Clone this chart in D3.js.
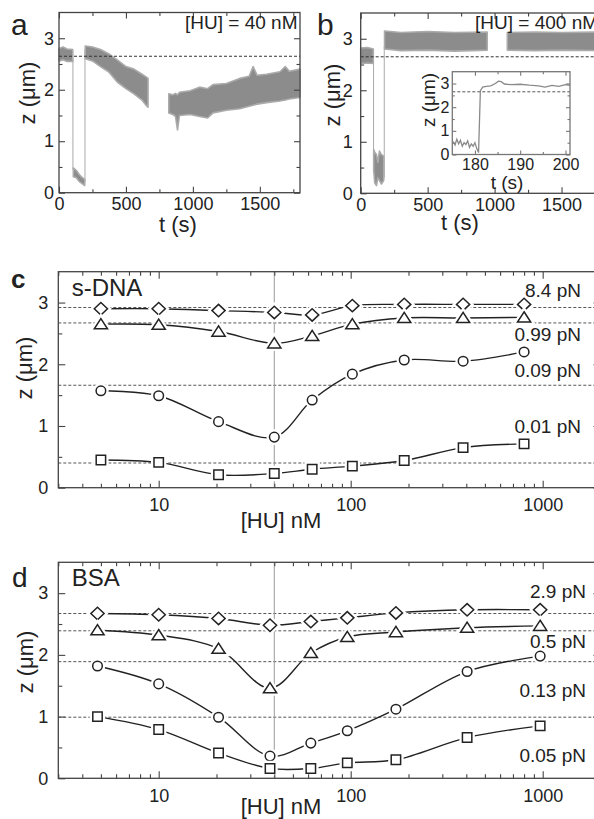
<!DOCTYPE html>
<html>
<head>
<meta charset="utf-8">
<script src="https://cdn.jsdelivr.net/npm/d3@7"></script>
<style>
  body { margin: 0; background: #fff; }
  svg { display: block; font-family: "Liberation Sans", Arial, sans-serif; }
</style>
</head>
<body>
<svg id="fig" width="594" height="819"></svg>
<script>
// ---- panel a: trace envelope, [t (s), z low, z high] per recorded stretch
const traceA = [
  [[0, 2.56, 2.80], [30, 2.58, 2.83], [60, 2.55, 2.79], [103, 2.55, 2.78]],
  [[107, 0.31, 0.48], [130, 0.29, 0.43], [150, 0.22, 0.36], [170, 0.18, 0.30], [192, 0.14, 0.26]],
  [[196, 2.60, 2.85], [250, 2.56, 2.83], [310, 2.45, 2.78], [370, 2.35, 2.70], [435, 2.15, 2.58],
   [500, 2.02, 2.45], [560, 1.92, 2.40], [620, 1.80, 2.30], [650, 1.70, 2.25], [665, 1.66, 2.22]],
  [[820, 1.55, 1.92], [850, 1.52, 1.90], [870, 1.48, 1.93], [885, 1.22, 1.90], [900, 1.50, 1.95],
   [980, 1.52, 1.98], [1050, 1.48, 2.05], [1110, 1.45, 2.02], [1150, 1.55, 2.10], [1250, 1.60, 2.12],
   [1350, 1.63, 2.22], [1420, 1.68, 2.26], [1450, 1.70, 2.45], [1480, 1.72, 2.28], [1550, 1.75, 2.30],
   [1650, 1.78, 2.35], [1690, 1.80, 2.45], [1720, 1.82, 2.36], [1800, 1.85, 2.40]]
];
const jumpsA = [[104, 2.6, 0.45], [194, 0.2, 2.78]]; // [t, from z, to z]

// ---- panel b
const traceB = [
  [[0, 2.52, 2.82], [50, 2.53, 2.83], [94, 2.52, 2.80]],
  [[97, 0.45, 0.85], [105, 0.20, 0.80], [118, 0.15, 0.75], [128, 0.30, 0.60], [140, 0.25, 0.82],
   [155, 0.18, 0.75], [172, 0.25, 0.72]],
  [[178, 2.80, 3.15], [300, 2.77, 3.12], [500, 2.78, 3.14], [700, 2.76, 3.12], [945, 2.78, 3.13]],
  [[1095, 2.78, 3.12], [1300, 2.77, 3.13], [1500, 2.78, 3.12], [1800, 2.77, 3.13]]
];
const jumpsB = [[96, 2.55, 0.8], [176, 0.3, 2.85]];

// inset of b: [t (s), z]
const insetT = [175.2, 175.6, 176.0, 176.4, 176.8, 177.2, 177.6, 178.0, 178.4, 178.8, 179.2, 179.6,
  180.0, 180.4, 180.8, 181.2, 181.7, 182.5, 183.5, 184.5, 185.2, 185.8, 186.5, 188, 190, 192,
  194, 195.5, 197, 198.5, 200, 201];
const insetZ = [0.55, 0.40, 0.65, 0.45, 0.60, 0.35, 0.50, 0.42, 0.58, 0.30, 0.45, 0.35,
  0.50, 0.25, 0.08, 2.70, 2.85, 2.88, 2.90, 3.00, 3.10, 3.08, 2.98, 2.95, 2.97, 2.93,
  2.90, 2.85, 2.92, 2.88, 2.95, 2.92];
const refAB = 2.65;

// ---- panel c (s-DNA)
const concC = [5, 10, 20.5, 40, 63, 102, 190, 385, 800];
const zC84 = [2.90, 2.90, 2.87, 2.84, 2.80, 2.95, 2.97, 2.97, 2.97];
const zC099 = [2.65, 2.64, 2.53, 2.34, 2.46, 2.65, 2.75, 2.75, 2.76];
const zC009 = [1.57, 1.49, 1.07, 0.82, 1.42, 1.84, 2.07, 2.05, 2.20];
const zC001 = [0.45, 0.41, 0.21, 0.23, 0.30, 0.35, 0.44, 0.65, 0.71];
const refC = [2.92, 2.67, 1.66, 0.40];
const forceC = ["8.4 pN", "0.99 pN", "0.09 pN", "0.01 pN"];

// ---- panel d (BSA)
const concD = [4.8, 10, 20.5, 38, 62, 96, 172, 404, 970];
const zD29 = [2.67, 2.65, 2.59, 2.48, 2.54, 2.60, 2.68, 2.73, 2.73];
const zD05 = [2.40, 2.32, 2.10, 1.46, 2.03, 2.29, 2.37, 2.44, 2.47];
const zD013 = [1.82, 1.53, 0.99, 0.36, 0.57, 0.77, 1.12, 1.73, 1.98];
const zD005 = [1.00, 0.79, 0.41, 0.16, 0.16, 0.25, 0.30, 0.66, 0.85];
const refD = [2.67, 2.39, 1.89, 0.99];
const forceD = ["2.9 pN", "0.5 pN", "0.13 pN", "0.05 pN"];

const hu40 = 40;

const ink = "#222", frameCol = "#444";
const svg = d3.select("#fig");
svg.append("rect").attr("width", 594).attr("height", 819).attr("fill", "#fff");

// frame + inward ticks on all four sides
function drawAxes(g, x, y, o) {
  const [x0, x1] = x.range();
  const [y0, y1] = y.range();
  const mk = (axisFn, scale, vals, size, fmt, pad, tr) => {
    const ax = axisFn(scale).tickValues(vals).tickSize(-size).tickSizeOuter(0)
      .tickPadding(pad).tickFormat(fmt || (() => ""));
    const a = g.append("g").attr("transform", tr).call(ax);
    a.select(".domain").remove();
    a.selectAll(".tick line").attr("stroke", o.col || frameCol).attr("stroke-width", 1.1);
    a.selectAll("text").attr("font-size", o.fs).attr("fill", ink).attr("font-family", null);
  };
  mk(d3.axisBottom, x, o.xMaj, o.maj, o.xFmt, o.xPad, `translate(0,${y0})`);
  mk(d3.axisBottom, x, o.xMin, o.min, null, 0, `translate(0,${y0})`);
  mk(d3.axisTop, x, o.xMaj, o.maj, null, 0, `translate(0,${y1})`);
  mk(d3.axisTop, x, o.xMin, o.min, null, 0, `translate(0,${y1})`);
  mk(d3.axisLeft, y, o.yMaj, o.maj, o.yFmt, o.yPad, `translate(${x0},0)`);
  mk(d3.axisLeft, y, o.yMin, o.min, null, 0, `translate(${x0},0)`);
  mk(d3.axisRight, y, o.yMaj, o.maj, null, 0, `translate(${x1},0)`);
  mk(d3.axisRight, y, o.yMin, o.min, null, 0, `translate(${x1},0)`);
  g.append("rect").attr("x", x0).attr("y", y1).attr("width", x1 - x0).attr("height", y0 - y1)
    .attr("fill", "none").attr("stroke", o.col || frameCol).attr("stroke-width", 1.3);
}

function text(x, y, s, size, anchor, extra) {
  const t = svg.append("text").attr("x", x).attr("y", y).attr("font-size", size)
    .attr("fill", ink).attr("text-anchor", anchor || "start").text(s);
  if (extra) extra(t);
  return t;
}
function yTitle(cx, cy, size) {
  svg.append("text").attr("transform", `translate(${cx},${cy}) rotate(-90)`)
    .attr("text-anchor", "middle").attr("dy", "0.35em").attr("font-size", size)
    .attr("fill", ink).text("z (μm)");
}

// ---------- time-trace panels a and b ----------
function tracePanel(x, y, segs, jumps) {
  const g = svg.append("g");
  const area = d3.area().x(d => x(d[0])).y0(d => y(d[1])).y1(d => y(d[2]));
  jumps.forEach(j => {
    g.append("line").attr("x1", x(j[0])).attr("x2", x(j[0]))
      .attr("y1", y(j[1])).attr("y2", y(j[2])).attr("stroke", "#aaa").attr("stroke-width", 1);
  });
  segs.forEach(s => {
    g.append("path").attr("d", area(s)).attr("fill", "#8c8c8c")
      .attr("stroke", "#ababab").attr("stroke-width", 1.6).attr("stroke-linejoin", "round");
  });
  g.append("line").attr("x1", x.range()[0]).attr("x2", x.range()[1])
    .attr("y1", y(refAB)).attr("y2", y(refAB))
    .attr("stroke", "#333").attr("stroke-width", 1).attr("stroke-dasharray", "3,2");
  return g;
}
const tFmt = d3.format("d");
const zFmt = d3.format("d");

const xA = d3.scaleLinear([0, 1800], [59, 300]);
const yA = d3.scaleLinear([0, 3.5], [192.7, 12.5]);
tracePanel(xA, yA, traceA, jumpsA);
drawAxes(svg.append("g"), xA, yA, {
  xMaj: [0, 500, 1000, 1500], xMin: [250, 750, 1250, 1750], yMaj: [0, 1, 2, 3], yMin: [0.5, 1.5, 2.5],
  maj: 6, min: 3.5, fs: 18, xPad: 4.5, yPad: 5, xFmt: tFmt, yFmt: zFmt
});
text(185, 29, "[HU] = 40 nM", 19);
text(178, 232, "t (s)", 22, "middle");
yTitle(27, 93, 22);
text(11, 35, "a", 30);

const xB = d3.scaleLinear([0, 1800], [360.7, 601.7]);
const yB = d3.scaleLinear([0, 3.5], [193.3, 13]);
tracePanel(xB, yB, traceB, jumpsB);
drawAxes(svg.append("g"), xB, yB, {
  xMaj: [0, 500, 1000, 1500], xMin: [250, 750, 1250, 1750], yMaj: [0, 1, 2, 3], yMin: [0.5, 1.5, 2.5],
  maj: 6, min: 3.5, fs: 18, xPad: 4.5, yPad: 8, xFmt: tFmt, yFmt: zFmt
});
text(475, 29, "[HU] = 400 nM", 19);
text(460, 230, "t (s)", 22, "middle");
yTitle(332, 95, 22);
text(317, 35, "b", 30);

// inset
const xI = d3.scaleLinear([175, 201], [452.3, 570]);
const yI = d3.scaleLinear([0, 3.5], [154.5, 71.7]);
svg.append("rect").attr("x", 452.3).attr("y", 71.7).attr("width", 570 - 452.3).attr("height", 154.5 - 71.7)
  .attr("fill", "#fff");
svg.append("line").attr("x1", 452.3).attr("x2", 570).attr("y1", yI(refAB)).attr("y2", yI(refAB))
  .attr("stroke", "#555").attr("stroke-width", 1).attr("stroke-dasharray", "3,2");
svg.append("path").datum(d3.zip(insetT, insetZ))
  .attr("d", d3.line().x(d => xI(d[0])).y(d => yI(d[1])))
  .attr("fill", "none").attr("stroke", "#8a8a8a").attr("stroke-width", 1.3);
drawAxes(svg.append("g"), xI, yI, {
  xMaj: [180, 190, 200], xMin: [185, 195], yMaj: [0, 1, 2, 3], yMin: [0.5, 1.5, 2.5],
  maj: 4, min: 2.5, fs: 16, xPad: 4, yPad: 3, xFmt: tFmt, yFmt: zFmt, col: "#777"
});
text(507, 189, "t (s)", 19, "middle");
svg.append("text").attr("transform", "translate(428,100) rotate(-90)")
  .attr("text-anchor", "middle").attr("dy", "0.35em").attr("font-size", 19)
  .attr("fill", ink).text("z (μm)");

// ---------- concentration panels c and d ----------
const diamond = { draw(c) { c.moveTo(0, -6.2); c.lineTo(6.6, 0); c.lineTo(0, 6.2); c.lineTo(-6.6, 0); c.closePath(); } };
const triangle = { draw(c) { c.moveTo(0, -5.6); c.lineTo(6.6, 4.6); c.lineTo(-6.6, 4.6); c.closePath(); } };
const circle = { draw(c) { c.moveTo(4.8, 0); c.arc(0, 0, 4.8, 0, 2 * Math.PI); } };
const square = { draw(c) { c.rect(-4.7, -4.7, 9.4, 9.4); } };
const shapes = [diamond, triangle, circle, square];

function concPanel(x, y, conc, series, refs, forces, forceY, forceX, tag, tagY, top) {
  const [x0, x1] = x.range();
  const g = svg.append("g");
  refs.forEach(r => {
    g.append("line").attr("x1", x0).attr("x2", x1).attr("y1", y(r)).attr("y2", y(r))
      .attr("stroke", "#555").attr("stroke-width", 1).attr("stroke-dasharray", "3,2");
  });
  g.append("line").attr("x1", x(hu40)).attr("x2", x(hu40))
    .attr("y1", y.range()[0]).attr("y2", y.range()[1]).attr("stroke", "#999").attr("stroke-width", 1);
  const line = d3.line().x(d => x(d[0])).y(d => y(d[1])).curve(d3.curveCatmullRom.alpha(0.5));
  series.forEach((vals, i) => {
    const pts = d3.zip(conc, vals);
    g.append("path").attr("d", line(pts)).attr("fill", "none")
      .attr("stroke", ink).attr("stroke-width", 1.4);
    const sym = d3.symbol().type(shapes[i]);
    // white halo leaves the small gap between curve and marker
    g.selectAll(null).data(pts).join("path").attr("d", sym)
      .attr("transform", d => `translate(${x(d[0])},${y(d[1])})`)
      .attr("fill", "#fff").attr("stroke", "#fff").attr("stroke-width", 6);
    g.selectAll(null).data(pts).join("path").attr("d", sym)
      .attr("transform", d => `translate(${x(d[0])},${y(d[1])})`)
      .attr("fill", "#fff").attr("stroke", ink).attr("stroke-width", 1.5);
  });
  forces.forEach((f, i) => text(forceX, y(forceY[i]), f, 19, "end"));
  drawAxes(svg.append("g"), x, y, {
    xMaj: [10, 100, 1000],
    xMin: [3, 4, 5, 6, 7, 8, 9, 20, 30, 40, 50, 60, 70, 80, 90, 200, 300, 400, 500, 600, 700, 800, 900, 2000],
    yMaj: [0, 1, 2, 3], yMin: [0.5, 1.5, 2.5],
    maj: 7, min: 4, fs: 18, xPad: 11, yPad: 10, xFmt: d3.format("d"), yFmt: zFmt
  });
  text(71.7, top + 24, tag, 24);
  text(281, tagY, "[HU] nM", 22, "middle");
}

const xC = d3.scaleLog([3, 2000], [58.3, 600.5]);
const yC = d3.scaleLinear([0, 3.5], [487.7, 271.7]);
concPanel(xC, yC, concC, [zC84, zC099, zC009, zC001], refC, forceC,
  [3.09, 2.37, 1.80, 0.88], 581, "s-DNA", 528, 271.7);
yTitle(24, 368, 22);
text(11, 288, "c", 26, "start", t => t.attr("font-weight", "bold"));

const xD = d3.scaleLog([3, 2000], [58.3, 600.5]);
const yD = d3.scaleLinear([0, 3.5], [778.3, 562.3]);
concPanel(xD, yD, concD, [zD29, zD05, zD013, zD005], refD, forceD,
  [2.92, 2.11, 1.32, 0.27], 586, "BSA", 814, 562.3);
yTitle(25, 662, 22);
text(12, 587, "d", 28);
</script>
</body>
</html>
